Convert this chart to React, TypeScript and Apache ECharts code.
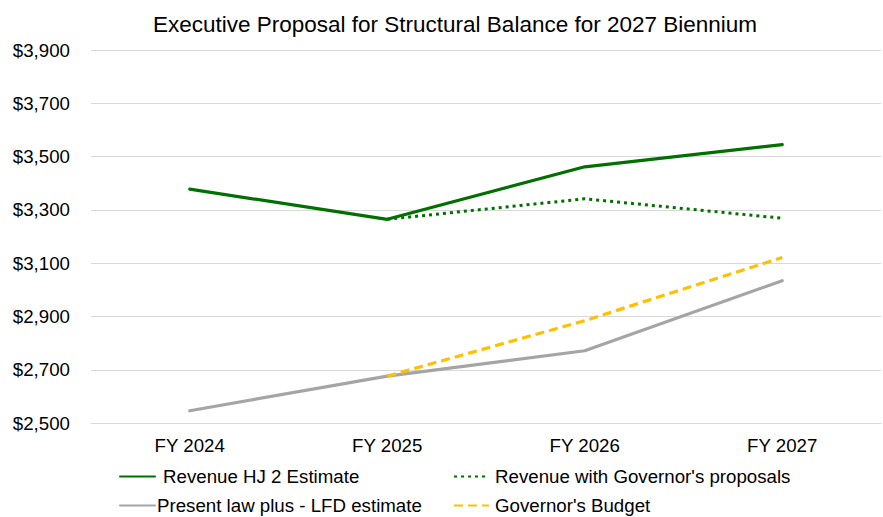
import React, { useEffect, useRef } from "react";
import * as echarts from "echarts";

const categories = ["FY 2024", "FY 2025", "FY 2026", "FY 2027"];
const revenueHJ2 = [3378, 3265, 3462, 3545];
const revenueGov = [null, 3265, 3342, 3269];
const presentLaw = [2547, 2677, 2772, 3035];
const govBudget = [null, 2677, 2885, 3122];

const FONT = "Liberation Sans, Arial, sans-serif";

export default function App() {
  const ref = useRef<HTMLDivElement>(null);
  useEffect(() => {
    if (!ref.current) return;
    const chart = echarts.init(ref.current, null, { renderer: "svg" });
    const legendBase = {
      orient: "horizontal" as const,
      itemWidth: 35,
      itemHeight: 14,
      itemGap: 6,
      itemStyle: { opacity: 0 },
      textStyle: { fontSize: 18.7, color: "#000", fontFamily: FONT, padding: [0, 0, 0, 0] },
      padding: 0,
    };
    chart.setOption({
      animation: false,
      backgroundColor: "#fff",
      title: {
        text: "Executive Proposal for Structural Balance for 2027 Biennium",
        left: 450,
        top: 8,
        textAlign: "center",
        textStyle: { fontSize: 22.5, fontWeight: "normal", color: "#000", fontFamily: FONT },
      },
      grid: { left: 91, right: 2, top: 50, bottom: 93.7, containLabel: false },
      xAxis: {
        type: "category",
        data: categories,
        boundaryGap: true,
        axisLine: { show: true, lineStyle: { color: "#d9d9d9", width: 1 } },
        axisTick: { show: false },
        axisLabel: { fontSize: 18.7, color: "#000", fontFamily: FONT, margin: 13 },
      },
      yAxis: {
        type: "value",
        min: 2500,
        max: 3900,
        interval: 200,
        axisLine: { show: false },
        axisTick: { show: false },
        splitLine: { lineStyle: { color: "#d9d9d9", width: 1 } },
        axisLabel: {
          fontSize: 18.7,
          color: "#000",
          fontFamily: FONT,
          margin: 21,
          formatter: (v: number) => "$" + v.toLocaleString("en-US"),
        },
      },
      legend: [
        { ...legendBase, left: 119, top: 467, data: ["Revenue HJ 2 Estimate"], textStyle: { ...legendBase.textStyle, padding: [0, 0, 0, 3] } },
        { ...legendBase, left: 453, top: 467, data: ["Revenue with Governor's proposals"], textStyle: { ...legendBase.textStyle, padding: [0, 0, 0, 1] } },
        { ...legendBase, left: 119, top: 496, data: ["Present law plus - LFD estimate"], textStyle: { ...legendBase.textStyle, padding: [0, 0, 0, -3] } },
        { ...legendBase, left: 453, top: 496, data: ["Governor's Budget"], textStyle: { ...legendBase.textStyle, padding: [0, 0, 0, 1] } },
      ],
      series: [
        {
          name: "Revenue HJ 2 Estimate",
          type: "line",
          data: revenueHJ2,
          symbol: "none",
          lineStyle: { color: "#007000", width: 3.2, cap: "round" },
          itemStyle: { color: "#007000" },
          z: 4,
        },
        {
          name: "Revenue with Governor's proposals",
          type: "line",
          data: revenueGov,
          symbol: "none",
          lineStyle: { color: "#007000", width: 3, type: [3, 4] },
          itemStyle: { color: "#007000" },
          z: 3,
        },
        {
          name: "Present law plus - LFD estimate",
          type: "line",
          data: presentLaw,
          symbol: "none",
          lineStyle: { color: "#a5a5a5", width: 3.2, cap: "round" },
          itemStyle: { color: "#a5a5a5" },
          z: 2,
        },
        {
          name: "Governor's Budget",
          type: "line",
          data: govBudget,
          symbol: "none",
          lineStyle: { color: "#ffc000", width: 3.2, type: [9, 5] },
          itemStyle: { color: "#ffc000" },
          z: 3,
        },
      ],
    });
    return () => chart.dispose();
  }, []);
  return <div ref={ref} style={{ width: 883, height: 517, position: "fixed", left: 0, top: 0 }} />;
}
